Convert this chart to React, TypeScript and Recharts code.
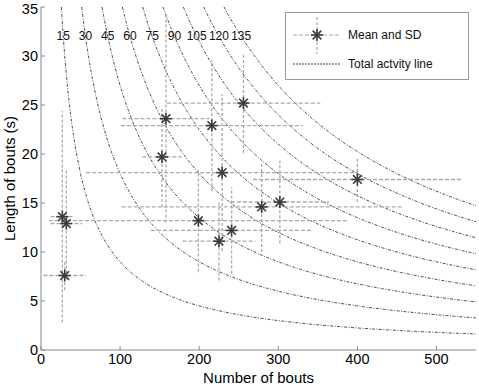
import { ComposedChart, Line, Scatter, ErrorBar, XAxis, YAxis, Legend } from 'recharts'

// total activity (min) for each iso-line, also used as its label
const TOTALS = [15, 30, 45, 60, 75, 90, 105, 120, 135]

// mean and SD of number of bouts / length of bouts (s)
const MEAN_BOUTS = [27, 32, 30, 158, 153, 216, 229, 256, 199, 225, 241, 279, 302, 400]
const SD_BOUTS = [15, 20, 27, 55, 25, 115, 172, 97, 189, 46, 102, 177, 62, 132]
const MEAN_LENGTH = [13.6, 12.9, 7.6, 23.6, 19.7, 22.9, 18.1, 25.2, 13.2, 11.1, 12.2, 14.6, 15.1, 17.4]
const SD_LENGTH = [10.8, 5.6, 1.5, 10.6, 5.1, 6.7, 8.0, 5.1, 5.2, 4.0, 4.4, 4.6, 4.2, 2.3]

const X_TICKS = [0, 100, 200, 300, 400, 500]
const Y_TICKS = [0, 5, 10, 15, 20, 25, 30, 35]
const X_MAX = 550
const Y_MAX = 35
const LABEL_Y = 32

const points = MEAN_BOUTS.map((x, i) => ({
  x,
  y: MEAN_LENGTH[i],
  ex: SD_BOUTS[i],
  ey: SD_LENGTH[i],
}))

// bouts * length(s) = total minutes * 60
const isoLine = (total: number) => {
  const start = (total * 60) / Y_MAX
  const out: { x: number; y: number }[] = []
  const n = 80
  for (let i = 0; i <= n; i++) {
    const x = start * Math.pow(X_MAX / start, i / n)
    out.push({ x, y: (total * 60) / x })
  }
  return out
}

const labelPoints = TOTALS.map(t => ({ x: (t * 60) / LABEL_Y, y: LABEL_Y, t }))

const FONT = '"Liberation Sans", Arial, sans-serif'

const Asterisk = (props: any) => {
  const { cx, cy } = props
  const r = 6
  const d = r * 0.72
  return (
    <g stroke="#3a3a3a" strokeWidth={1.6}>
      <line x1={cx - r} y1={cy} x2={cx + r} y2={cy} />
      <line x1={cx} y1={cy - r} x2={cx} y2={cy + r} />
      <line x1={cx - d} y1={cy - d} x2={cx + d} y2={cy + d} />
      <line x1={cx - d} y1={cy + d} x2={cx + d} y2={cy - d} />
    </g>
  )
}

const IsoLabel = (props: any) => {
  const { cx, cy, payload } = props
  return (
    <text x={cx} y={cy} textAnchor="middle" dominantBaseline="central" fontSize={12} fontFamily={FONT} fill="#111">
      {payload.t}
    </text>
  )
}

const LegendBox = () => (
  <svg width={184} height={68} style={{ display: 'block' }}>
    <rect x={0.5} y={0.5} width={183} height={67} fill="#fff" stroke="#999" />
    <line x1={8} y1={23} x2={55} y2={23} stroke="#aaa" strokeWidth={1.2} strokeDasharray="4 2" />
    <line x1={32} y1={5} x2={32} y2={42} stroke="#aaa" strokeWidth={1.2} strokeDasharray="3 2" />
    <Asterisk cx={32} cy={23} />
    <text x={63} y={23} dominantBaseline="central" fontSize={12} fontFamily={FONT} fill="#111">Mean and SD</text>
    <line x1={8} y1={52} x2={55} y2={52} stroke="#333" strokeWidth={0.9} strokeDasharray="2 1" />
    <text x={63} y={52} dominantBaseline="central" fontSize={12} fontFamily={FONT} fill="#111">Total actvity line</text>
  </svg>
)

export default function App() {
  return (
    <div style={{ position: 'absolute', left: 0, top: 0, background: '#fff' }}>
      <ComposedChart
        width={479}
        height={386}
        margin={{ top: 7, right: 3, bottom: 0, left: 0 }}
        style={{ fontFamily: FONT }}
      >
        <XAxis
          type="number"
          dataKey="x"
          domain={[0, X_MAX]}
          ticks={X_TICKS}
          allowDataOverflow
          height={36}
          stroke="#888"
          tickSize={-4}
          tickMargin={8}
          tick={{ fill: '#000', fontSize: 14.5 }}
          label={{ value: 'Number of bouts', position: 'center', dy: 10, fill: '#000', fontSize: 15 }}
        />
        <YAxis
          type="number"
          dataKey="y"
          domain={[0, Y_MAX]}
          ticks={Y_TICKS}
          allowDataOverflow
          width={41}
          stroke="#888"
          tickSize={-4}
          tickMargin={7}
          tick={{ fill: '#000', fontSize: 14.5 }}
          label={{ value: 'Length of bouts (s)', angle: -90, position: 'center', dx: -11, fill: '#000', fontSize: 15 }}
        />
        {TOTALS.map(t => (
          <Line
            key={t}
            data={isoLine(t)}
            dataKey="y"
            type="linear"
            stroke="#222"
            strokeWidth={0.8}
            strokeDasharray="3 1.5 1 1.5"
            dot={false}
            activeDot={false}
            isAnimationActive={false}
          />
        ))}
        <Scatter data={points} shape={<Asterisk />} isAnimationActive={false}>
          <ErrorBar dataKey="ex" direction="x" width={0} stroke="#aaa" strokeWidth={1.3} strokeDasharray="4 2" />
          <ErrorBar dataKey="ey" direction="y" width={0} stroke="#aaa" strokeWidth={1.3} strokeDasharray="3 2" />
        </Scatter>
        <Scatter data={labelPoints} shape={<IsoLabel />} isAnimationActive={false} />
        <Legend
          layout="vertical"
          align="center"
          verticalAlign="middle"
          content={() => <LegendBox />}
          wrapperStyle={{ left: 285, top: 12, width: 184 }}
        />
      </ComposedChart>
    </div>
  )
}
